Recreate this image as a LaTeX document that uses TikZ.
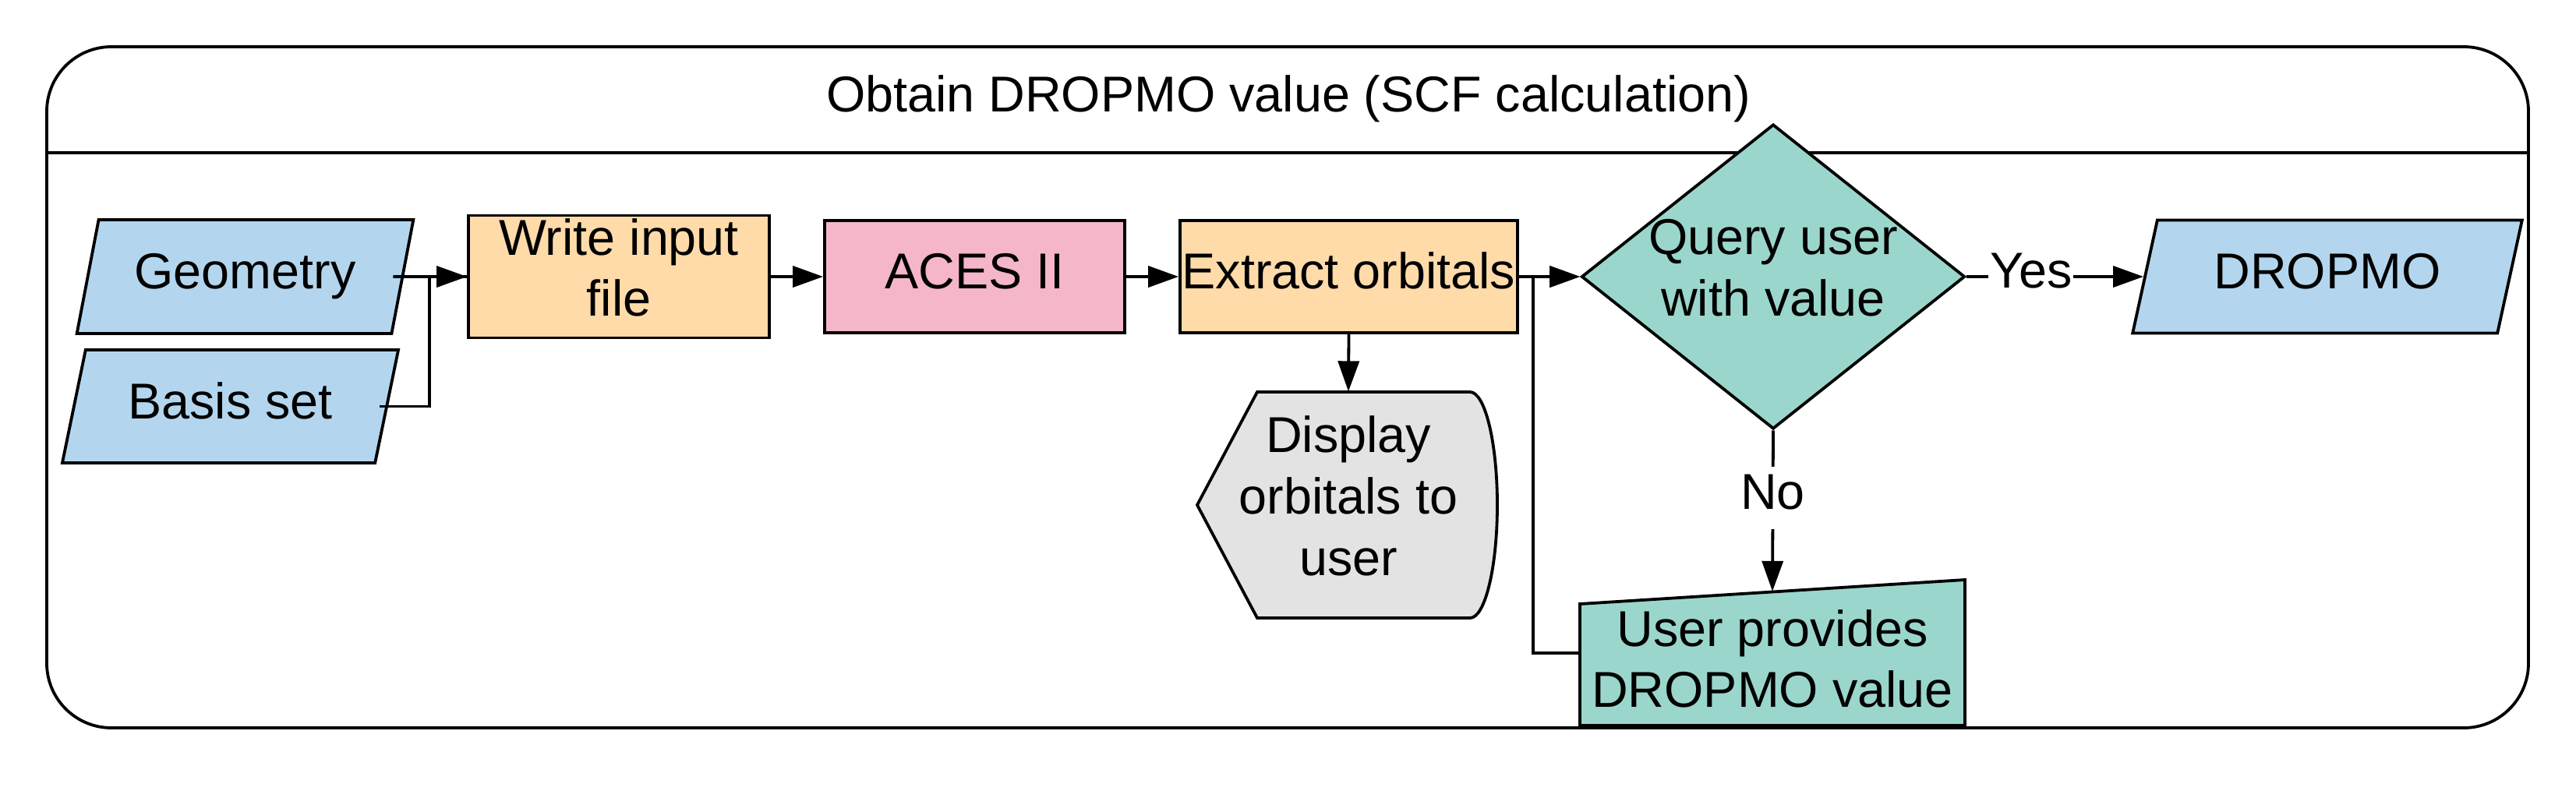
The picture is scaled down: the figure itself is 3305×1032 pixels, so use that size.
\documentclass[tikz,border=0pt]{standalone}
\usepackage{fontspec}
\setmainfont{Liberation Sans}
\usetikzlibrary{shapes.geometric,arrows.meta,calc}
\definecolor{cblue}{RGB}{179,214,238}
\definecolor{cpeach}{RGB}{255,219,169}
\definecolor{cpink}{RGB}{244,182,200}
\definecolor{cteal}{RGB}{154,214,204}
\definecolor{cgrey}{RGB}{227,227,227}
\begin{document}
\begin{tikzpicture}[x=0.1mm,y=-0.1mm,
  every node/.style={font=\fontsize{18.4pt}{22.4pt}\selectfont,
    execute at begin node=\strut, execute at end node=\strut},
  lw/.style={line width=0.38mm},
  box/.style={lw, draw, rectangle, inner sep=0pt, align=center},
  para/.style={lw, draw, trapezium, trapezium left angle=75, trapezium right angle=105,
    trapezium stretches=true, inner sep=0pt, fill=cblue},
  conn/.style={lw, -{Triangle[length=3.9mm,width=2.7mm]}},
  plain/.style={lw},
  lbl/.style={fill=white, inner xsep=0.5pt, inner ysep=0pt, text height=15.5pt, text depth=7.1pt}
]
\useasboundingbox (0,0) rectangle (3305,1032);
% container
\draw[lw, rounded corners=8.3mm] (60,60) rectangle (3244,934);
\draw[lw] (60,196) -- (3244,196);
\node (title) at (1653,128) {Obtain DROPMO value (SCF calculation)};

% nodes
\node[para, minimum width=43.5mm, minimum height=14.6mm] (geom) at (314.5,355) {Geometry};
\node[para, minimum width=43.3mm, minimum height=14.5mm] (basis) at (295.5,521.5) {Basis set};
\node[box, fill=cpeach, minimum width=38.6mm, minimum height=15.7mm] (write) at (794,355) {Write input\\file};
\node[box, fill=cpink, minimum width=38.5mm, minimum height=14.4mm] (aces) at (1250.5,355) {ACES II};
\node[box, fill=cpeach, minimum width=43.3mm, minimum height=14.4mm] (extract) at (1730.5,355) {Extract orbitals};

\draw[lw, fill=cgrey] (1536,648) -- (1613,503) -- (1886,503)
  .. controls (1905.3,503) and (1921,567.9) .. (1921,648)
  .. controls (1921,728.1) and (1905.3,793) .. (1886,793) -- (1613,793) -- cycle;
\node[align=center, minimum width=38.5mm, minimum height=29mm, inner sep=0pt] (disp) at (1730,648) {Display\\orbitals to\\user};

\node[diamond, lw, draw, fill=cteal, aspect=1.26, inner sep=-0.6mm, minimum width=49.2mm,
  minimum height=39.1mm, align=center] (query) at (2275,355) {Query user\\with value};

\node[para, minimum width=50.2mm, minimum height=14.5mm] (dropmo) at (2986,355) {DROPMO};

\draw[lw, fill=cteal] (2027,775) -- (2521,744) -- (2521,931) -- (2027,931) -- cycle;
\node[align=center, inner sep=0pt, minimum width=49.4mm, minimum height=19.5mm] (user) at (2274,857) {User provides\\DROPMO value};

% connectors
\draw[conn] ([xshift=-1.4mm]geom.east) -- (write.west);
\draw[plain] ([xshift=-1.1mm]basis.east) -- ++(64,0) |- (write.west);
\draw[conn] (write.east) -- (aces.west);
\draw[conn] (aces.east) -- (extract.west);
\draw[conn] (extract.south) -- (disp.north);
\draw[conn] (extract.east) -- (query.west);
\draw[conn] ([yshift=1.9mm]user.west) -- ++(-59,0) |- (query.west);
\draw[conn] (query.east) -- node[lbl, pos=0.365] {Yes} (dropmo.west);
\draw[conn] (query.south) -- node[lbl, pos=0.42] {No} (user.north);
\end{tikzpicture}
\end{document}
